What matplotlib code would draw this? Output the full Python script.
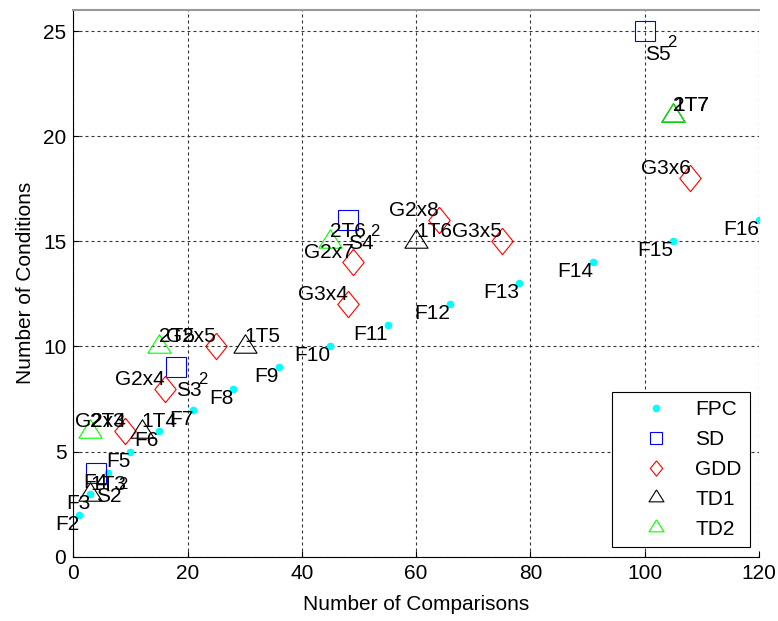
import matplotlib
matplotlib.use("Agg")
import matplotlib.pyplot as plt

plt.rcParams["font.family"] = ["Liberation Sans", "DejaVu Sans"]

fpc_x = [1, 3, 6, 10, 15, 21, 28, 36, 45, 55, 66, 78, 91, 105, 120]
fpc_y = [2, 3, 4, 5, 6, 7, 8, 9, 10, 11, 12, 13, 14, 15, 16]
fpc_labels = ["F2", "F3", "F4", "F5", "F6", "F7", "F8", "F9", "F10",
              "F11", "F12", "F13", "F14", "F15", "F16"]

sd_x = [4, 18, 48, 100]
sd_y = [4, 9, 16, 25]
sd_labels = ["S2", "S3", "S4", "S5"]
sd_powers = ["2", "2", "2", "2"]

gdd_x = [9, 16, 25, 49, 64, 48, 75, 108]
gdd_y = [6, 8, 10, 14, 16, 12, 15, 18]
gdd_labels = ["G2x3", "G2x4", "G2x5", "G2x7", "G2x8", "G3x4", "G3x5", "G3x6"]

td1_x = [3, 12, 30, 60, 105]
td1_y = [3, 6, 10, 15, 21]
td1_labels = ["1T3", "1T4", "1T5", "1T6", "1T7"]

td2_x = [3, 15, 45, 105]
td2_y = [6, 10, 15, 21]
td2_labels = ["2T4", "2T5", "2T6", "2T7"]

diamond = [(0, 1), (0.81, 0), (0, -1), (-0.81, 0), (0, 1)]
triangle = [(0, 1.02), (1, -0.58), (-1, -0.58), (0, 1.02)]

fig = plt.figure(figsize=(7.78, 6.21), dpi=100)
ax = fig.add_axes([0.0942, 0.1035, 0.8814, 0.8804])

ax.plot(fpc_x, fpc_y, linestyle="None", marker="o", ms=4.5, color="cyan", label="FPC")
ax.plot(sd_x, sd_y, linestyle="None", marker="s", ms=13.7, mfc="none", mec="b", mew=0.8, label="SD")
ax.plot(gdd_x, gdd_y, linestyle="None", marker=diamond, ms=19, mfc="none", mec="r", mew=0.8, label="GDD")
ax.plot(td1_x, td1_y, linestyle="None", marker=triangle, ms=17, mfc="none", mec="k", mew=0.8, label="TD1")
ax.plot(td2_x, td2_y, linestyle="None", marker=triangle, ms=17, mfc="none", mec=(0, 1, 0), mew=0.8, label="TD2")

fs = 15
for x, y, t in zip(fpc_x, fpc_y, fpc_labels):
    ax.text(x, y, t, ha="right", va="top", fontsize=fs)
for x, y, t, p in zip(sd_x, sd_y, sd_labels, sd_powers):
    base = ax.annotate(t, xy=(x, y), xytext=(0, -10), textcoords="offset points",
                       ha="left", va="top", fontsize=fs)
    ax.annotate(p, xy=(1, 1), xycoords=base, xytext=(-2.5, 7), textcoords="offset points",
                ha="left", va="top", fontsize=12)
for x, y, t in zip(gdd_x, gdd_y, gdd_labels):
    ax.text(x, y, t, ha="right", va="bottom", fontsize=fs)
for x, y, t in zip(td1_x, td1_y, td1_labels):
    ax.text(x, y, t, ha="left", va="bottom", fontsize=fs)
for x, y, t in zip(td2_x, td2_y, td2_labels):
    ax.text(x, y, t, ha="left", va="bottom", fontsize=fs)

ax.set_xlim(0, 120)
ax.set_ylim(0, 26)
ax.set_xticks(range(0, 121, 20))
ax.set_yticks(range(0, 26, 5))
ax.grid(True, linestyle=(0, (2.7, 2.7)), linewidth=0.8, color="#333333")
ax.tick_params(direction="in", length=4, width=0.8, labelsize=fs, pad=5)
ax.spines["right"].set_visible(False)
ax.spines["top"].set_color("#999999")
ax.spines["top"].set_linewidth(1.5)
ax.set_xlabel("Number of Comparisons", fontsize=fs, labelpad=9)
ax.set_ylabel("Number of Conditions", fontsize=fs, labelpad=6)

leg = ax.legend(loc="lower right", bbox_to_anchor=(0.987, 0.018), fontsize=fs,
                fancybox=False, edgecolor="k", framealpha=1, borderpad=0.4,
                handlelength=3.4, handletextpad=0.2, labelspacing=0.52, borderaxespad=0)
leg.get_frame().set_linewidth(0.8)
for h, s in zip(leg.legend_handles, [4.5, 8, 11, 11, 11]):
    h.set_markersize(s)

fig.savefig("out.png", dpi=100)
